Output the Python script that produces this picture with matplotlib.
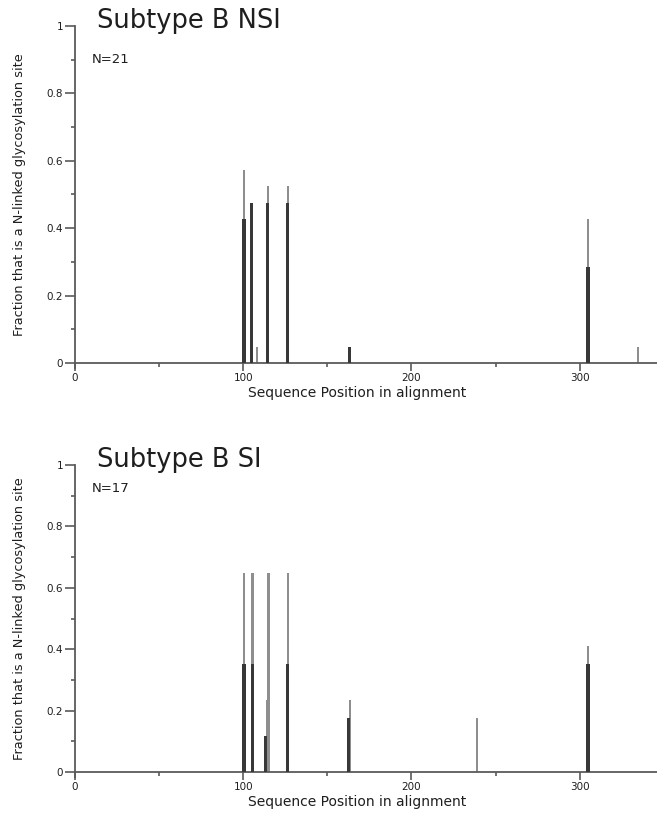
import matplotlib
matplotlib.use("Agg")
import matplotlib.pyplot as plt
from matplotlib.ticker import FixedLocator

# ---- data ----
nsi_title = "Subtype B NSI"
nsi_n = "N=21"
nsi_pos_light = [100.5, 105, 108, 114.5, 126.5, 163, 305, 334.5]
nsi_val_light = [12/21, 10/21, 1/21, 11/21, 11/21, 1/21, 9/21, 1/21]
nsi_pos_dark = [100.5, 105, 114.5, 126.5, 163, 305]
nsi_val_dark = [9/21, 10/21, 10/21, 10/21, 1/21, 6/21]

si_title = "Subtype B SI"
si_n = "N=17"
si_pos_light = [100.5, 105.5, 114, 115, 126.5, 163.5, 239, 305]
si_val_light = [11/17, 11/17, 4/17, 11/17, 11/17, 4/17, 3/17, 7/17]
si_pos_dark = [100.5, 105.5, 113.3, 126.5, 162.8, 305]
si_val_dark = [6/17, 6/17, 2/17, 6/17, 3/17, 6/17]

x_major = [0, 100, 200, 300]
x_minor = [50, 150, 250]
y_major = [0, 0.2, 0.4, 0.6, 0.8, 1.0]
y_labels = ["0", "0.2", "0.4", "0.6", "0.8", "1"]
y_minor = [0.1, 0.3, 0.5, 0.7, 0.9]
xlabel = "Sequence Position in alignment"
ylabel = "Fraction that is a N-linked glycosylation site"

W, H = 657, 815
fig = plt.figure(figsize=(W / 100, H / 100), dpi=100)
plt.rcParams['font.family'] = ['DejaVu Sans']

AX_COL = "#5a5a5a"
LIGHT = "#8e8e8e"
DARK = "#383838"
TXT = "#1e1e1e"
YMIN = -0.015
XMAX = 346


def make_panel(y1px, y0px, n_px, title, ntext, pl, vl, pd, vd):
    per = (y0px - y1px)
    bottom_px = y0px - YMIN * per
    left = 75 / W
    ax = fig.add_axes([left, 1 - bottom_px / H, 1 - left, (bottom_px - y1px) / H])
    ax.bar(pl, vl, width=1.3, color=LIGHT, zorder=2)
    ax.bar(pd, vd, width=1.9, color=DARK, zorder=3)
    ax.set_xlim(0, XMAX)
    ax.set_ylim(YMIN, 1.0)
    for s in ("top", "right"):
        ax.spines[s].set_visible(False)
    ax.spines["bottom"].set_position(("data", 0))
    ax.spines["left"].set_bounds(YMIN, 1.0)
    for s in ("bottom", "left"):
        ax.spines[s].set_color(AX_COL)
        ax.spines[s].set_linewidth(1.3)
    ax.xaxis.set_major_locator(FixedLocator(x_major))
    ax.xaxis.set_minor_locator(FixedLocator(x_minor))
    ax.set_xticklabels([str(v) for v in x_major])
    ax.yaxis.set_major_locator(FixedLocator(y_major))
    ax.yaxis.set_minor_locator(FixedLocator(y_minor))
    ax.set_yticklabels(y_labels)
    ax.tick_params(axis="x", which="major", length=6, width=1.2, color=AX_COL,
                   labelsize=7.5, labelcolor=TXT, pad=1.5)
    ax.tick_params(axis="y", which="major", length=7, width=1.2, color=AX_COL,
                   labelsize=7.5, labelcolor=TXT, pad=1.5)
    ax.tick_params(axis="both", which="minor", length=3, width=1.2, color=AX_COL)
    ax.text(13, 0.994, title, fontsize=18.5, color=TXT, va="baseline", ha="left", clip_on=False)
    ax.text(10, (y0px - n_px) / per, ntext, fontsize=9.5, color=TXT, va="center", ha="left")
    fig.text(357 / W, 1 - (y0px + 30) / H, xlabel, fontsize=10, color=TXT, ha="center", va="center")
    fig.text(20 / W, 1 - ((y1px + y0px) / 2) / H, ylabel, fontsize=9.3, color=TXT,
             ha="center", va="center", rotation=90)
    return ax


make_panel(26, 363, 60, nsi_title, nsi_n, nsi_pos_light, nsi_val_light, nsi_pos_dark, nsi_val_dark)
make_panel(465, 772, 488, si_title, si_n, si_pos_light, si_val_light, si_pos_dark, si_val_dark)

fig.savefig("out.png", dpi=100)
